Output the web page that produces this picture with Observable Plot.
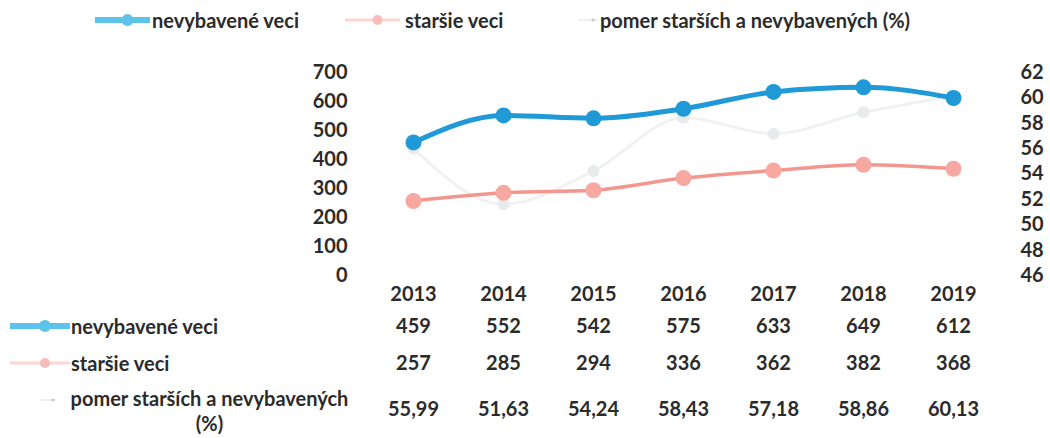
<!DOCTYPE html>
<html><head><meta charset="utf-8">
<script src="https://cdn.jsdelivr.net/npm/d3@7"></script>
<script src="https://cdn.jsdelivr.net/npm/@observablehq/plot@0.6"></script>
<style>
body{margin:0;background:#fff;font-family:Lato,"Open Sans",sans-serif;font-weight:700;color:#2b2b2b;}
#wrap{position:relative;width:1050px;height:438px;overflow:hidden;}
#legend{position:relative;height:40px;}
.lab{position:absolute;font-size:20px;line-height:20px;white-space:nowrap;}
.sw{position:absolute;}
#chart{position:absolute;left:0;top:40px;}
</style></head>
<body>
<div id="wrap">
<div id="legend"></div>
<div id="chart"></div>
<div id="rows"></div>
</div>
<script>
const years = ["2013","2014","2015","2016","2017","2018","2019"];
const nevybavene = [459,552,542,575,633,649,612];
const starsie = [257,285,294,336,362,382,368];
const pomer = [55.99,51.63,54.24,58.43,57.18,58.86,60.13];
const pomerLabels = ["55,99","51,63","54,24","58,43","57,18","58,86","60,13"];
const leftTicks = [0,100,200,300,400,500,600,700];
const rightTicks = [46,48,50,52,54,56,58,60,62];
const seriesNames = ["nevybavené veci","staršie veci","pomer starších a nevybavených (%)"];

const colBlue = "#1f9ad6", colBlueLight = "#5cc3ec";
const colPink = "#f3968e", colPinkLight = "#f6a8a1";
const colGray = "#f0f2f2";

// secondary axis mapping 46..62 -> 0..700
const r0 = 46, r1 = 62, l1 = 700;
const toLeft = v => (v - r0) / (r1 - r0) * l1;

const data = years.map((y,i)=>({year:y, nev:nevybavene[i], sta:starsie[i], pom:pomer[i], pomL:toLeft(pomer[i]), pomLabel:pomerLabels[i]}));

const font = "Lato, 'Open Sans', sans-serif";
const plot = Plot.plot({
  width:1050, height:398,
  marginLeft:365, marginRight:50, marginTop:32, marginBottom:163,
  style:{fontFamily:font, fontSize:"20px", fontWeight:700, color:"#2b2b2b", background:"transparent"},
  x:{type:"point", domain:years, padding:0.5},
  y:{domain:[0,700]},
  marks:[
    Plot.axisY(leftTicks, {anchor:"left", tickSize:0, tickPadding:18, label:null, fontSize:20}),
    Plot.axisY(rightTicks.map(toLeft), {anchor:"right", tickSize:0, tickPadding:20, label:null, fontSize:20, tickFormat:d=>String(Math.round(r0 + d/l1*(r1-r0))), textAnchor:"start"}),
    Plot.axisX({tickSize:0, tickPadding:11, label:null, fontSize:20}),
    Plot.line(data, {x:"year", y:"pomL", stroke:colGray, strokeWidth:3, curve:"monotone-x"}),
    Plot.dot(data, {x:"year", y:"pomL", r:6, fill:"#e8ebeb", stroke:"none"}),
    Plot.line(data, {x:"year", y:"sta", stroke:colPink, strokeWidth:3.5, curve:"monotone-x"}),
    Plot.dot(data, {x:"year", y:"sta", r:8, fill:colPinkLight, stroke:"none"}),
    Plot.line(data, {x:"year", y:"nev", stroke:colBlue, strokeWidth:5, curve:"monotone-x"}),
    Plot.dot(data, {x:"year", y:"nev", r:8, fill:colBlue, stroke:"none"}),
    Plot.text(data, {x:"year", text:d=>String(d.nev), frameAnchor:"bottom", dy:51, lineAnchor:"middle", fontSize:20}),
    Plot.text(data, {x:"year", text:d=>String(d.sta), frameAnchor:"bottom", dy:88, lineAnchor:"middle", fontSize:20}),
    Plot.text(data, {x:"year", text:"pomLabel", frameAnchor:"bottom", dy:134, lineAnchor:"middle", fontSize:20})
  ]
});
document.getElementById("chart").appendChild(plot);

function swatch(x, y, w, color, lineW, dotColor, dotR){
  const s = `<svg class="sw" style="left:${x}px;top:${y-10}px" width="${w}" height="20">
    <line x1="0" y1="10" x2="${w}" y2="10" stroke="${color}" stroke-width="${lineW}"/>
    <circle cx="${w/2+5}" cy="10" r="${dotR}" fill="${dotColor}"/></svg>`;
  return s;
}
const leg = document.getElementById("legend");
leg.innerHTML =
  swatch(95,20,55,colBlueLight,6,colBlueLight,6) + `<div class="lab" style="left:152px;top:10px">${seriesNames[0]}</div>` +
  swatch(345,20,55,"#fbd6d2",3,"#f7bdb8",5) + `<div class="lab" style="left:405px;top:10px">${seriesNames[1]}</div>` +
  swatch(578,20,20,"#f0f1f1",2,"#c8caca",1.5) + `<div class="lab" style="left:600px;top:10px">${seriesNames[2]}</div>`;

const rows = document.getElementById("rows");
rows.innerHTML =
  swatch(10,326,60,colBlueLight,6,colBlueLight,6) + `<div class="lab" style="left:71px;top:316px">${seriesNames[0]}</div>` +
  swatch(10,363,60,"#fbd6d2",3,"#f7bdb8",5) + `<div class="lab" style="left:71px;top:353px">${seriesNames[1]}</div>` +
  swatch(40,400,16,"#f0f1f1",2,"#c8caca",1.5) + `<div class="lab" style="left:57px;top:386px;width:305px;white-space:normal;text-align:center;line-height:25px;">${seriesNames[2]}</div>`;
</script>
</body></html>
